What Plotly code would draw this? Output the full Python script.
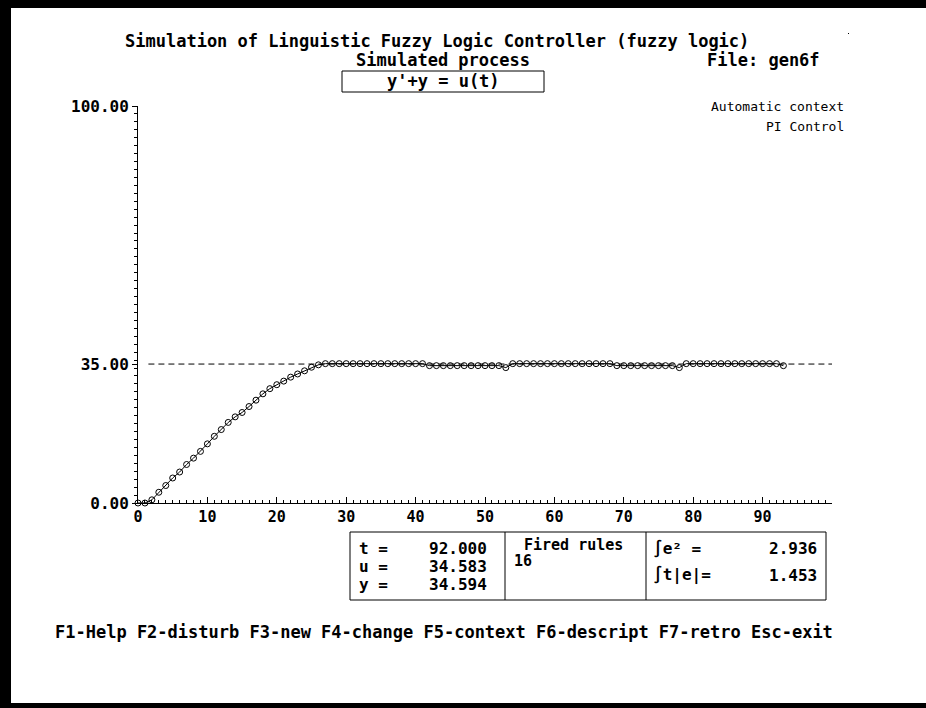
import plotly.graph_objects as go

# ---- data ----
t_values = list(range(0, 94))
y_values = [0.0, 0.0, 0.8, 2.7, 4.4, 6.3, 7.8, 9.7, 11.3, 13.0,
            14.9, 16.8, 18.5, 20.3, 21.7, 22.8, 24.3, 25.9, 27.5, 28.8,
            29.8, 30.7, 31.7, 32.5, 33.3, 34.2, 34.8] \
    + [35.1] * 15 + [34.6] * 11 + [34.1] + [35.1] * 15 + [34.6] * 9 + [34.1] \
    + [35.1] * 14 + [34.59]
setpoint = 35.0
setpoint_x = [1.5, 100]
x_ticks = list(range(0, 101, 10))
x_ticktext = [str(v) for v in range(0, 100, 10)] + [""]
y_ticks = [0, 35, 100]
y_ticktext = ["0.00", "35.00", "100.00"]

title_text = "Simulation of Linguistic Fuzzy Logic Controller (fuzzy logic)"
process_label = "Simulated process"
process_eq = "y'+y = u(t)"
file_label = "File: gen6f"
context_lines = ["Automatic context", "PI Control"]
status_rows = [("t =", "92.000"), ("u =", "34.583"), ("y =", "34.594")]
fired_label = "Fired rules"
fired_count = "16"
integrals = [("∫e² =", "2.936"), ("∫t|e|=", "1.453")]
keys_line = "F1-Help F2-disturb F3-new F4-change F5-context F6-descript F7-retro Esc-exit"

# ---- layout geometry (pixels) ----
W, H = 926, 708
L, R, T, B = 138, 94, 106, 205
PW, PH = W - L - R, H - T - B


def px(x):
    return (x - L) / PW


def py(y):
    return (H - B - y) / PH


MONO = "DejaVu Sans Mono"

fig = go.Figure()
fig.add_trace(go.Scatter(x=setpoint_x, y=[setpoint, setpoint], mode="lines",
                         line=dict(color="black", width=1, dash="6px,4px"),
                         hoverinfo="skip", showlegend=False))
fig.add_trace(go.Scatter(x=t_values, y=y_values, mode="lines+markers",
                         line=dict(color="black", width=1),
                         marker=dict(symbol="circle-open", size=6, color="black",
                                     line=dict(width=1, color="black")),
                         cliponaxis=False, showlegend=False))

ann = []


def text(x, y, s, anchor="left", size=17, bold=True):
    ann.append(dict(x=px(x), y=py(y), xref="paper", yref="paper", text=s,
                    showarrow=False, xanchor=anchor, yanchor="middle",
                    font=dict(family=MONO, size=size, color="black",
                              weight="bold" if bold else "normal")))


text(437, 41, title_text, "center")
text(443, 60, process_label, "center")
text(705, 60, file_label, "left")
text(443, 81, process_eq, "center")
text(846, 106, context_lines[0], "right", size=13, bold=False)
text(846, 126, context_lines[1], "right", size=13, bold=False)
for i, (lab, val) in enumerate(status_rows):
    yy = 548 + 18 * i
    text(357, yy, lab, "left", size=16)
    text(489, yy, val, "right", size=16)
text(522, 545, fired_label, "left", size=15)
text(512, 561, fired_count, "left", size=15)
for i, (lab, val) in enumerate(integrals):
    yy = 548 + 27 * i
    text(651, yy, lab, "left", size=16)
    text(819, yy, val, "right", size=16)
text(53, 632, keys_line, "left", size=17)

shapes = []


def rect(x0, y0, x1, y1, fill=None, width=1):
    shapes.append(dict(type="rect", xref="paper", yref="paper",
                       x0=px(x0), x1=px(x1), y0=py(y0), y1=py(y1),
                       line=dict(color="black", width=0 if fill else width),
                       fillcolor=fill if fill else "rgba(0,0,0,0)", layer="above"))


def vline(x, y0, y1):
    shapes.append(dict(type="line", xref="paper", yref="paper",
                       x0=px(x), x1=px(x), y0=py(y0), y1=py(y1),
                       line=dict(color="black", width=1), layer="above"))


rect(342, 71, 544, 92)
rect(350, 532, 826, 600)
vline(505, 532, 600)
vline(646, 532, 600)
# screen frame
rect(0, 0, 926, 8, fill="black")
rect(0, 0, 11, 708, fill="black")
rect(0, 703, 926, 708, fill="black")
rect(848, 33, 849, 34, fill="black")

fig.update_layout(
    width=W, height=H,
    margin=dict(l=L, r=R, t=T, b=B, pad=0),
    paper_bgcolor="white", plot_bgcolor="white",
    showlegend=False,
    annotations=ann, shapes=shapes,
    xaxis=dict(range=[0, 100], showgrid=False, zeroline=False,
               showline=True, linecolor="black", linewidth=1,
               ticks="inside", ticklen=6, tickcolor="black",
               tickvals=x_ticks, ticktext=x_ticktext,
               tickfont=dict(family=MONO, size=15, color="black", weight="bold"),
               minor=dict(ticks="inside", ticklen=3, dtick=1, tickcolor="black",
                          showgrid=False)),
    yaxis=dict(range=[0, 100], showgrid=False, zeroline=False,
               showline=True, linecolor="black", linewidth=1,
               ticks="outside", ticklen=5, tickcolor="black",
               tickvals=y_ticks, ticktext=y_ticktext,
               tickfont=dict(family=MONO, size=16, color="black", weight="bold"),
               minor=dict(ticks="outside", ticklen=3, dtick=2, tickcolor="black",
                          showgrid=False)),
)

fig.write_html(
    "out.html",
    config={"displayModeBar": False},
    post_script=("document.body.style.margin='0';"
                 "document.body.style.overflow='hidden';"
                 "document.documentElement.style.overflow='hidden';"),
)
